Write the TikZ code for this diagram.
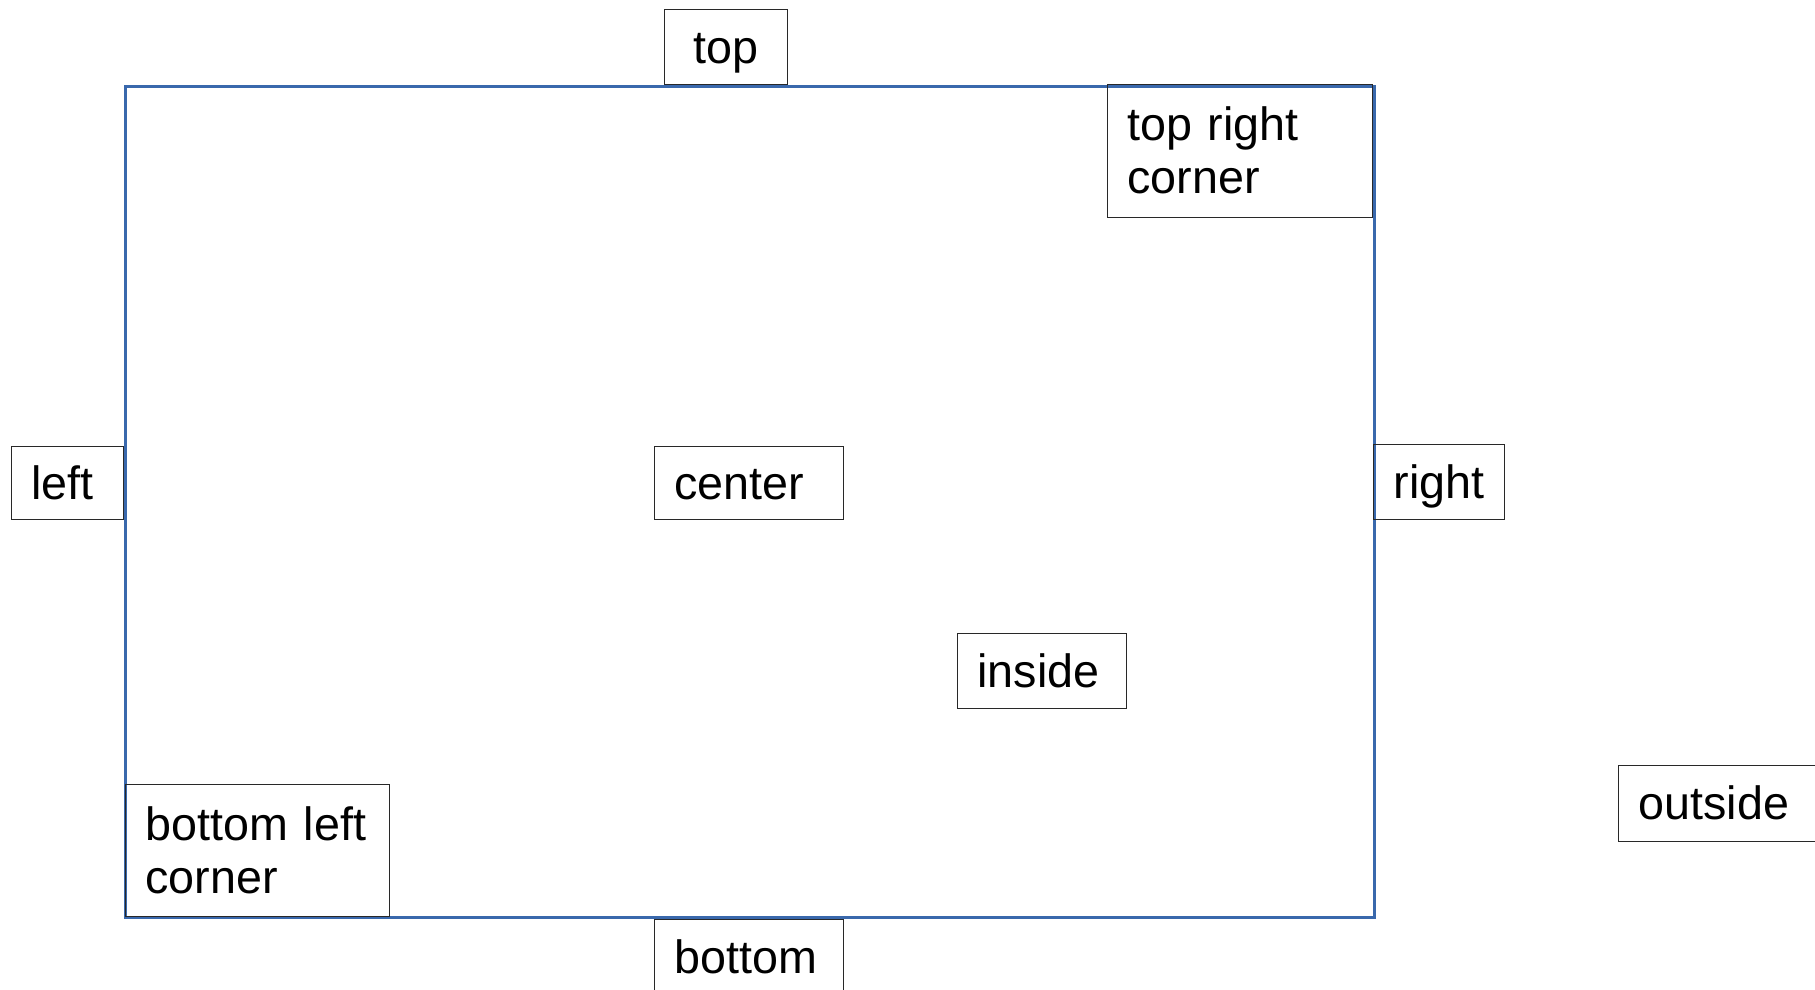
\documentclass[tikz,border=0pt]{standalone}
\usepackage{fontspec}
\setmainfont{Liberation Sans}
\definecolor{frameblue}{RGB}{57,104,172}
\definecolor{boxline}{RGB}{40,40,40}
\newcommand\lblstrut{\rule[-7.4pt]{0pt}{39.1pt}}
\tikzset{
  lblbox/.style={draw=boxline, line width=0.8pt, anchor=north west,
    inner xsep=15pt, inner ysep=0pt, align=left,
    font=\fontsize{35}{39.75}\selectfont},
}
\begin{document}
\begin{tikzpicture}[x=0.75pt,y=-0.75pt]
\useasboundingbox (0,0) rectangle (1815,989);
\node[draw=frameblue, line width=2.9pt, anchor=north west, inner sep=0pt,
      minimum width=936.75pt, minimum height=623.25pt] (frame) at (123.5,84.5) {};
\node[lblbox, align=center, text width=62.25pt, minimum height=56.25pt] (top) at (664,9) {\lblstrut top};
\node[lblbox, text width=168.75pt, minimum height=99.75pt] (topright) at (1107,84) {\lblstrut top right\\corner\lblstrut};
\node[lblbox, text width=54pt,     minimum height=54.75pt] (left)    at (11,446)   {\lblstrut left};
\node[lblbox, text width=111.75pt, minimum height=54.75pt] (center)  at (654,446)  {\lblstrut center};
\node[lblbox, text width=68.25pt,  minimum height=56.25pt] (right)   at (1373,444) {\lblstrut right};
\node[lblbox, text width=96.75pt,  minimum height=56.25pt] (inside)  at (957,633)  {\lblstrut inside};
\node[lblbox, text width=120pt,    minimum height=57pt]    (outside) at (1618,765) {\lblstrut outside};
\node[lblbox, text width=168pt,    minimum height=99pt]    (bottomleft) at (125,784) {\lblstrut\mbox{bottom left}\\corner\lblstrut};
\node[lblbox, text width=111.75pt, minimum height=56.25pt] (bottom)  at (654,919)  {\lblstrut bottom};
\end{tikzpicture}
\end{document}
